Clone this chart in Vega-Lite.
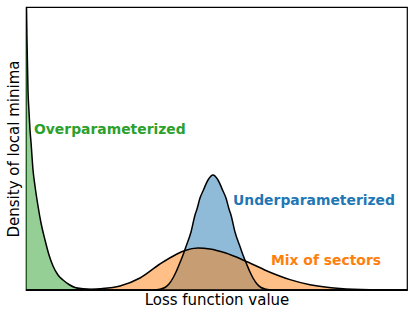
{
  "$schema": "https://vega.github.io/schema/vega-lite/v6.json",
  "width": 381,
  "height": 283,
  "autosize": "none",
  "padding": {"left": 26, "top": 7, "right": 8, "bottom": 28},
  "config": {"view": {"stroke": "black", "strokeWidth": 1.2}, "font": "DejaVu Sans"},
  "datasets": {
    "curves": [
      {"series": "over", "x": 0, "y": 3.2},
      {"series": "over", "x": 0.013, "y": 2.83},
      {"series": "over", "x": 0.026, "y": 2.5},
      {"series": "over", "x": 0.052, "y": 2.0},
      {"series": "over", "x": 0.079, "y": 1.78},
      {"series": "over", "x": 0.105, "y": 1.6},
      {"series": "over", "x": 0.131, "y": 1.48},
      {"series": "over", "x": 0.184, "y": 1.2},
      {"series": "over", "x": 0.236, "y": 1.04},
      {"series": "over", "x": 0.315, "y": 0.84},
      {"series": "over", "x": 0.394, "y": 0.67},
      {"series": "over", "x": 0.499, "y": 0.5},
      {"series": "over", "x": 0.604, "y": 0.35},
      {"series": "over", "x": 0.709, "y": 0.24},
      {"series": "over", "x": 0.84, "y": 0.15},
      {"series": "over", "x": 0.971, "y": 0.1},
      {"series": "over", "x": 1.129, "y": 0.055},
      {"series": "over", "x": 1.286, "y": 0.025},
      {"series": "over", "x": 1.496, "y": 0.012},
      {"series": "over", "x": 1.759, "y": 0.005},
      {"series": "over", "x": 2.1, "y": 0.001},
      {"series": "over", "x": 2.625, "y": 0},
      {"series": "over", "x": 10, "y": 0},
      {"series": "under", "x": 0, "y": 0},
      {"series": "under", "x": 3.071, "y": 0},
      {"series": "under", "x": 3.333, "y": 0.001},
      {"series": "under", "x": 3.517, "y": 0.008},
      {"series": "under", "x": 3.648, "y": 0.025},
      {"series": "under", "x": 3.753, "y": 0.06},
      {"series": "under", "x": 3.858, "y": 0.12},
      {"series": "under", "x": 3.937, "y": 0.18},
      {"series": "under", "x": 4.016, "y": 0.25},
      {"series": "under", "x": 4.121, "y": 0.35},
      {"series": "under", "x": 4.186, "y": 0.42},
      {"series": "under", "x": 4.331, "y": 0.58},
      {"series": "under", "x": 4.436, "y": 0.75},
      {"series": "under", "x": 4.488, "y": 0.81},
      {"series": "under", "x": 4.567, "y": 0.92},
      {"series": "under", "x": 4.646, "y": 0.99},
      {"series": "under", "x": 4.777, "y": 1.1},
      {"series": "under", "x": 4.908, "y": 1.15},
      {"series": "under", "x": 5.039, "y": 1.1},
      {"series": "under", "x": 5.17, "y": 0.99},
      {"series": "under", "x": 5.249, "y": 0.92},
      {"series": "under", "x": 5.328, "y": 0.81},
      {"series": "under", "x": 5.38, "y": 0.75},
      {"series": "under", "x": 5.485, "y": 0.58},
      {"series": "under", "x": 5.63, "y": 0.42},
      {"series": "under", "x": 5.695, "y": 0.35},
      {"series": "under", "x": 5.8, "y": 0.25},
      {"series": "under", "x": 5.879, "y": 0.18},
      {"series": "under", "x": 5.958, "y": 0.12},
      {"series": "under", "x": 6.063, "y": 0.06},
      {"series": "under", "x": 6.168, "y": 0.025},
      {"series": "under", "x": 6.299, "y": 0.008},
      {"series": "under", "x": 6.483, "y": 0.001},
      {"series": "under", "x": 6.745, "y": 0},
      {"series": "under", "x": 10, "y": 0},
      {"series": "mix", "x": 0, "y": 0},
      {"series": "mix", "x": 0.892, "y": 0},
      {"series": "mix", "x": 1.417, "y": 0.003},
      {"series": "mix", "x": 1.942, "y": 0.012},
      {"series": "mix", "x": 2.467, "y": 0.04},
      {"series": "mix", "x": 2.992, "y": 0.12},
      {"series": "mix", "x": 3.517, "y": 0.26},
      {"series": "mix", "x": 3.963, "y": 0.36},
      {"series": "mix", "x": 4.173, "y": 0.395},
      {"series": "mix", "x": 4.514, "y": 0.42},
      {"series": "mix", "x": 4.829, "y": 0.41},
      {"series": "mix", "x": 5.223, "y": 0.372},
      {"series": "mix", "x": 5.8, "y": 0.283},
      {"series": "mix", "x": 6.404, "y": 0.178},
      {"series": "mix", "x": 6.929, "y": 0.104},
      {"series": "mix", "x": 7.454, "y": 0.053},
      {"series": "mix", "x": 8.241, "y": 0.015},
      {"series": "mix", "x": 9.029, "y": 0.003},
      {"series": "mix", "x": 10, "y": 0}
    ],
    "labels": [
      {"series": "over", "x": 0.21, "y": 1.6, "text": "Overparameterized"},
      {"series": "under", "x": 5.433, "y": 0.89, "text": "Underparameterized"},
      {"series": "mix", "x": 6.43, "y": 0.29, "text": "Mix of sectors"}
    ]
  },
  "data": {"name": "curves"},
  "encoding": {
    "x": {"field": "x", "type": "quantitative",
      "scale": {"domain": [0, 10], "nice": false, "zero": false},
      "axis": {"title": "Loss function value", "labels": false, "ticks": false, "domain": false, "grid": false,
        "titleFontSize": 15, "titleFontWeight": "normal", "titleColor": "black", "titlePadding": 2}},
    "y": {"field": "y", "type": "quantitative",
      "scale": {"domain": [0, 2.83], "nice": false, "zero": false},
      "axis": {"title": "Density of local minima", "labels": false, "ticks": false, "domain": false, "grid": false,
        "titleFontSize": 15, "titleFontWeight": "normal", "titleColor": "black", "titlePadding": 5}}
  },
  "layer": [
    {"transform": [{"filter": "datum.series === 'over'"}],
     "mark": {"type": "area", "interpolate": "monotone", "clip": true, "color": "#2ca02c", "opacity": 0.5}},
    {"transform": [{"filter": "datum.series === 'under'"}],
     "mark": {"type": "area", "interpolate": "monotone", "clip": true, "color": "#1f77b4", "opacity": 0.5}},
    {"transform": [{"filter": "datum.series === 'mix'"}],
     "mark": {"type": "area", "interpolate": "monotone", "clip": true, "color": "#ff7f0e", "opacity": 0.5}},
    {"mark": {"type": "line", "interpolate": "monotone", "clip": true, "color": "black", "strokeWidth": 1.5},
     "encoding": {"detail": {"field": "series"}}},
    {"data": {"name": "labels"},
     "mark": {"type": "text", "align": "left", "baseline": "middle", "fontSize": 13.9, "fontWeight": "bold", "font": "DejaVu Sans"},
     "encoding": {
       "text": {"field": "text"},
       "color": {"field": "series", "type": "nominal",
         "scale": {"domain": ["over", "under", "mix"], "range": ["#2ca02c", "#1f77b4", "#ff7f0e"]},
         "legend": null}
     }}
  ]
}
